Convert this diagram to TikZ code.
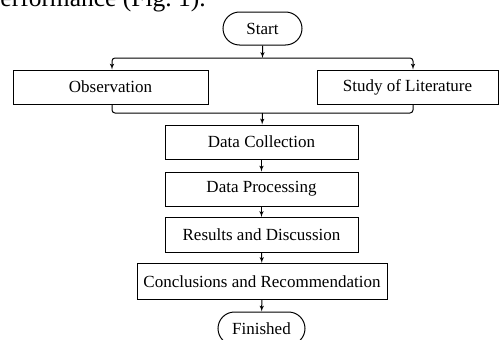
\documentclass[tikz,border=0pt]{standalone}
\usepackage{fontspec}
\setmainfont{Liberation Serif}
\usetikzlibrary{shapes,arrows}

\begin{document}
\begin{tikzpicture}[auto,>=latex',
	procbox/.style={draw, rectangle, line width=1pt, minimum height=34pt, inner sep=0pt, font=\fontsize{17}{20}\selectfont},
	termnode/.style={draw, rounded rectangle, line width=1pt, minimum height=33pt, inner sep=0pt, font=\fontsize{17}{20}\selectfont},
	link/.style={line width=1pt, rounded corners=3pt}]
	\useasboundingbox (0pt,0pt) rectangle (499pt,-340pt);
	\clip (0pt,0pt) rectangle (499pt,-340pt);
	\node[anchor=base west, inner sep=0pt, font=\fontsize{25.5}{30}\selectfont] (caption) at (-12.5pt,-6pt) {performance (Fig.~1).};
	\node[termnode, minimum width=79pt] (start) at (262.5pt,-28.5pt) {Start};
	\node[procbox, minimum width=195pt] (obs) at (110.5pt,-87pt) {Observation};
	\node[procbox, minimum width=181pt] (lit) at (407.5pt,-87pt) {Study of Literature};
	\node[procbox, minimum width=193pt] (collect) at (261.5pt,-142pt) {Data Collection};
	\node[procbox, minimum width=193pt] (process) at (261.5pt,-189pt) {Data Processing};
	\node[procbox, minimum width=193pt, minimum height=35pt] (results) at (261.5pt,-235pt) {Results and Discussion};
	\node[procbox, minimum width=250pt, minimum height=36pt] (concl) at (262pt,-281.5pt) {Conclusions and Recommendation};
	\node[termnode, minimum width=87pt] (finish) at (261.5pt,-328.5pt) {Finished};
	\coordinate (split) at (262.5pt,-58pt);
	\coordinate (merge) at (262.5pt,-113pt);
	\draw[link,->] (start) -- (split);
	\draw[link,->] (split) -| ([xshift=1.5pt]obs.north);
	\draw[link,->] (split) -| ([xshift=5.5pt]lit.north);
	\draw[link] ([xshift=1.5pt]obs.south) |- (merge) -| ([xshift=5.5pt]lit.south);
	\path[link,->] (merge) edge (collect);
	\path[link,->] (collect) edge (process);
	\path[link,->] (process) edge (results);
	\path[link,->] (results) edge (concl);
	\path[link,->] (concl) edge (finish);
\end{tikzpicture}
\end{document}
